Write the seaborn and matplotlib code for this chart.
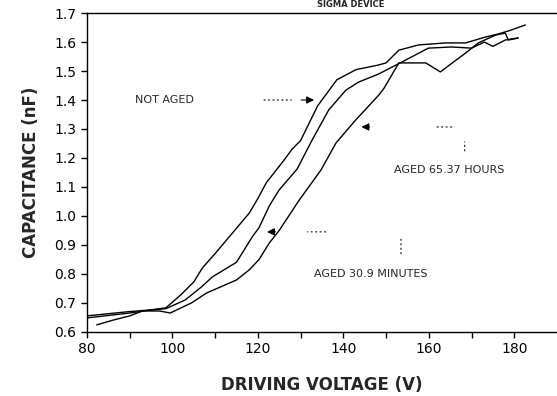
import numpy as np
import pandas as pd
import matplotlib
matplotlib.use("Agg")
import matplotlib.pyplot as plt
import seaborn as sns

# Kurvor (spänning V, kapacitans nF)
volt_not_aged = [80, 90, 98.5, 102, 105, 107, 110, 114, 118, 120, 122, 126, 128, 130,
                 134, 138.5, 143, 148, 150, 153, 157.6, 164, 168.6, 173.2, 176.3, 179, 182.6]
cap_not_aged = [0.648, 0.665, 0.683, 0.728, 0.772, 0.82, 0.87, 0.94, 1.01, 1.06, 1.115, 1.19, 1.23, 1.26,
                1.38, 1.47, 1.505, 1.52, 1.528, 1.572, 1.59, 1.597, 1.597, 1.617, 1.628, 1.64, 1.659]

volt_hours = [80, 90, 98.5, 103, 106.8, 109.4, 115, 118.7, 120.3, 122.7, 125, 129.2, 132.7, 136.6,
              140.6, 143.6, 148.3, 153.7, 159.9, 165.3, 170, 173, 175, 177.9, 180.9]
cap_hours = [0.655, 0.67, 0.68, 0.71, 0.755, 0.79, 0.84, 0.928, 0.96, 1.035, 1.09, 1.162, 1.262, 1.366,
             1.434, 1.462, 1.49, 1.531, 1.579, 1.583, 1.579, 1.6, 1.585, 1.607, 1.614]

volt_minutes = [82.3, 86, 90, 93, 97, 99.5, 104.5, 108, 115, 118, 120.3, 122.7, 125, 129.7, 134.8,
                138.3, 142.9, 148.3, 149.5, 153, 159.3, 162.7, 168.6, 171.6, 175.6, 177.9, 178.6, 180.9]
cap_minutes = [0.624, 0.64, 0.655, 0.672, 0.672, 0.665, 0.7, 0.734, 0.779, 0.814, 0.85, 0.907, 0.95, 1.055, 1.159,
               1.252, 1.331, 1.417, 1.44, 1.528, 1.528, 1.497, 1.562, 1.597, 1.624, 1.631, 1.607, 1.614]

rows = []
for name, xs, ys in [("NOT AGED", volt_not_aged, cap_not_aged),
                     ("AGED 65.37 HOURS", volt_hours, cap_hours),
                     ("AGED 30.9 MINUTES", volt_minutes, cap_minutes)]:
    for i, (x, y) in enumerate(zip(xs, ys)):
        rows.append({"serie": name, "volt": x, "cap": y, "ordning": i})
df = pd.DataFrame(rows)

sns.set_style("ticks")
plt.rcParams['font.family'] = ['DejaVu Sans']

fig = plt.figure(figsize=(5.57, 3.96), dpi=100)
ax = fig.add_axes([0.156, 0.162, 0.844, 0.805])

sns.lineplot(data=df, x="volt", y="cap", units="serie", estimator=None, sort=False,
             color="black", linewidth=1.0, ax=ax, legend=False)

ax.set_xlim(80, 190)
ax.set_ylim(0.6, 1.7)
ax.set_xticks(np.arange(80, 181, 20))
ax.set_xticks(np.arange(90, 181, 20), minor=True)
ax.set_yticks(np.arange(0.6, 1.71, 0.1))
ax.set_yticklabels([f"{v:.1f}" for v in np.arange(0.6, 1.71, 0.1)])
ax.tick_params(axis="both", which="both", direction="out", length=4, width=1, labelsize=10, colors="black")
ax.spines["right"].set_visible(False)
for s in ["left", "bottom", "top"]:
    ax.spines[s].set_color("black")
    ax.spines[s].set_linewidth(1.0)

ax.set_xlabel("DRIVING VOLTAGE (V)", fontsize=12, fontweight="bold", labelpad=14)
ax.set_ylabel("CAPACITANCE (nF)", fontsize=12, fontweight="bold", labelpad=10)

# Titel i överkanten (liten)
fig.text(0.63, 0.999, "SIGMA DEVICE", fontsize=6, fontweight="bold", ha="center", va="top")

# Etiketter med pilar
dot = dict(arrowstyle="-", linestyle=(0, (1, 3)), color="black", lw=0.8)
pil = dict(arrowstyle="-|>", color="black", lw=0.8, mutation_scale=11)

ax.text(91.2, 1.40, "NOT AGED", fontsize=8, ha="left", va="center")
ax.annotate("", xy=(128.5, 1.40), xytext=(120.8, 1.40), arrowprops=dot)
ax.annotate("", xy=(133.8, 1.40), xytext=(129.5, 1.40), arrowprops=pil)

ax.annotate("", xy=(143.6, 1.307), xytext=(146.8, 1.307), arrowprops=pil)
ax.annotate("", xy=(160.8, 1.307), xytext=(166.0, 1.307), arrowprops=dot)
ax.annotate("", xy=(168.4, 1.265), xytext=(168.4, 1.215), arrowprops=dot)
ax.text(151.8, 1.159, "AGED 65.37 HOURS", fontsize=8, ha="left", va="center")

ax.annotate("", xy=(121.5, 0.945), xytext=(124.8, 0.945), arrowprops=pil)
ax.annotate("", xy=(131.0, 0.945), xytext=(136.5, 0.945), arrowprops=dot)
ax.annotate("", xy=(153.5, 0.94), xytext=(153.5, 0.86), arrowprops=dot)
ax.text(133.2, 0.80, "AGED 30.9 MINUTES", fontsize=8, ha="left", va="center")

fig.savefig("out.png", dpi=100)
